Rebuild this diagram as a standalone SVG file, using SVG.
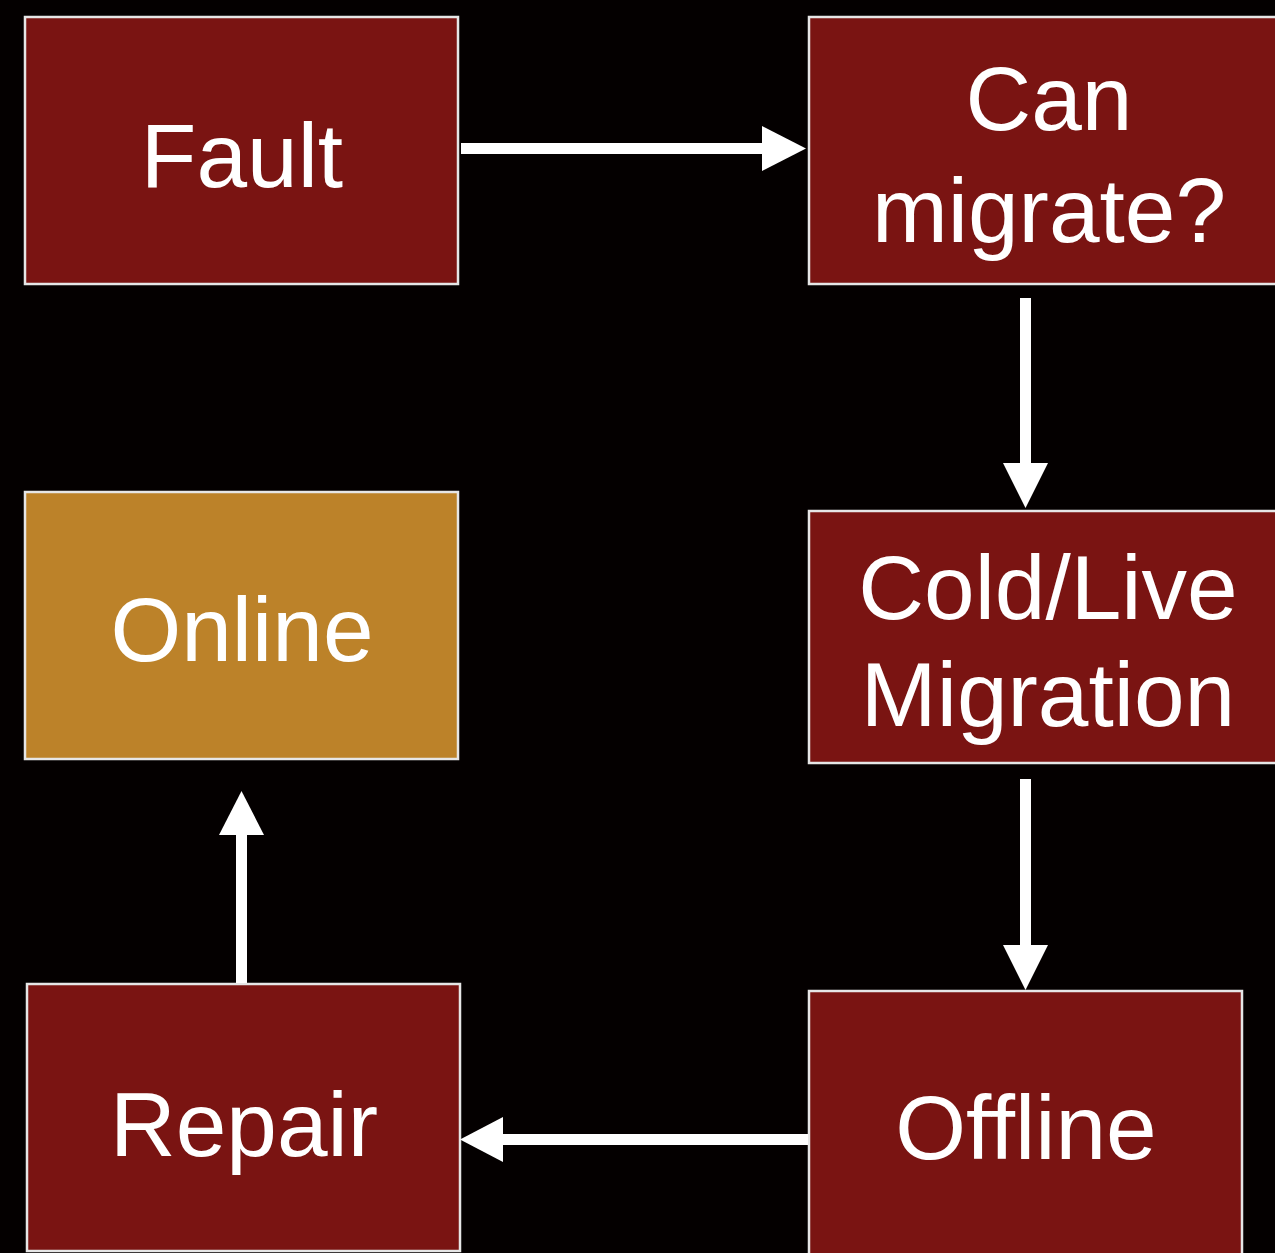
<svg xmlns="http://www.w3.org/2000/svg" width="1275" height="1253" viewBox="0 0 1275 1253">
<style>
.box{fill:#7a1412;stroke:#e6e6e6;stroke-width:2.5}
.online{fill:#bc8229;stroke:#e6e6e6;stroke-width:2.5}
.lbl{font-family:"Liberation Sans",Arial,sans-serif;font-size:91px;fill:#ffffff;text-anchor:middle}
.ln{stroke:#ffffff;stroke-width:11;fill:none}
.hd{fill:#ffffff}
</style>
<rect x="0" y="0" width="1275" height="1253" fill="#040000"/>
<g id="fault"><rect class="box" x="25" y="17" width="433" height="267"/><text class="lbl" x="242" y="187">Fault</text></g>
<g id="can-migrate"><rect class="box" x="809" y="17" width="480" height="267"/><text class="lbl" x="1049" y="130">Can</text><text class="lbl" x="1049" y="242">migrate?</text></g>
<g id="migration"><rect class="box" x="809" y="511" width="480" height="252"/><text class="lbl" x="1048" y="619">Cold/Live</text><text class="lbl" x="1048" y="726">Migration</text></g>
<g id="online"><rect class="online" x="25" y="492" width="433" height="267"/><text class="lbl" x="242" y="661">Online</text></g>
<g id="repair"><rect class="box" x="27" y="984" width="433" height="267"/><text class="lbl" x="244" y="1156">Repair</text></g>
<g id="offline"><rect class="box" x="809" y="991" width="433" height="280"/><text class="lbl" x="1026" y="1159">Offline</text></g>
<g id="connectors">
<line class="ln" x1="461" y1="148.5" x2="765" y2="148.5"/><polygon class="hd" points="762,126 806,148.5 762,171"/>
<line class="ln" x1="1025.5" y1="298" x2="1025.5" y2="466"/><polygon class="hd" points="1003,463 1048,463 1025.5,508"/>
<line class="ln" x1="1025.5" y1="779" x2="1025.5" y2="948"/><polygon class="hd" points="1003,945 1048,945 1025.5,990"/>
<line class="ln" x1="241.5" y1="983" x2="241.5" y2="832"/><polygon class="hd" points="219,835 264,835 241.5,791"/>
<line class="ln" x1="808" y1="1139.5" x2="500" y2="1139.5"/><polygon class="hd" points="503,1117 503,1162 460,1139.5"/>
</g>
</svg>
